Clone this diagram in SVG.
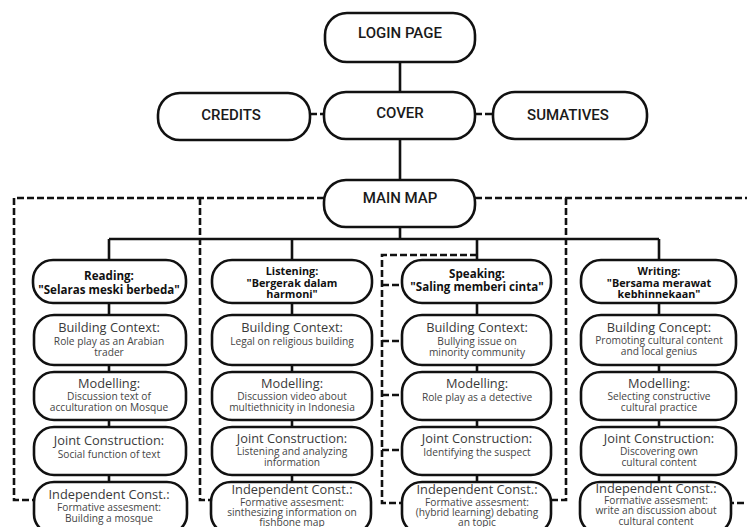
<svg xmlns="http://www.w3.org/2000/svg" width="747" height="527" viewBox="0 0 747 527">
<style>
.top{fill:#fff;stroke:#111;stroke-width:2.6}
.box{fill:#fff;stroke:#111;stroke-width:2.6}
.tl{font-family:Roboto,"Liberation Sans",sans-serif;font-weight:500;font-size:15px;fill:#1a1a1a;text-anchor:middle}
.hd{font-family:"Open Sans","Noto Sans",sans-serif;font-weight:700;font-size:11.6px;fill:#111;text-anchor:middle}
.h3{font-family:"Open Sans","Noto Sans",sans-serif;font-weight:700;font-size:10.8px;fill:#111;text-anchor:middle}
.tt{font-family:"Open Sans","Noto Sans",sans-serif;font-size:12.8px;fill:#3a3a3a;text-anchor:middle}
.ds{font-family:"Open Sans","Noto Sans",sans-serif;font-size:10.2px;fill:#454545;text-anchor:middle}
.sol{fill:none;stroke:#111;stroke-width:2.6}
.dash{fill:none;stroke:#111;stroke-width:2.6;stroke-dasharray:7 3}
</style>
<rect width="747" height="527" fill="#fff"/>
<g id="connectors">
<path class="sol" d="M400 62V92M400 139V180M400 227V239M109 239H659M109 239V260M292 239V260M477 239V260M659 239V260"/>
<path class="sol" d="M109 303V315M109 365V372M109 420V427M109 475V482M292 303V315M292 365V372M292 420V427M292 475V482M477 303V315M477 365V372M477 420V427M477 475V482M659 303V315M659 365V372M659 420V427M659 475V482"/>
<path class="dash" d="M310 114H324M475 114H493"/>
<path class="dash" d="M324 198H14V500H34M200 198V500H212"/>
<path class="dash" d="M475 198H752V503H731M566 198V500H551"/>
<path class="dash" d="M477 255H382V503H402M382 285H402M382 341H402M382 395H402M382 450H402"/>
</g>
<g id="login"><rect class="top" x="325" y="13" width="150" height="49" rx="22"/><text class="tl" x="400" y="38">LOGIN PAGE</text></g>
<g id="credits"><rect class="top" x="158" y="93" width="152" height="47" rx="22"/><text class="tl" x="231" y="120">CREDITS</text></g>
<g id="cover"><rect class="top" x="324" y="92" width="151" height="47" rx="22"/><text class="tl" x="400" y="118">COVER</text></g>
<g id="sumatives"><rect class="top" x="493" y="92" width="154" height="47" rx="22"/><text class="tl" x="568" y="120">SUMATIVES</text></g>
<g id="mainmap"><rect class="top" x="324" y="180" width="151" height="47" rx="22"/><text class="tl" x="400" y="203">MAIN MAP</text></g>

<g id="reading-h"><rect class="box" x="33" y="260" width="153" height="43" rx="20"/><text class="hd" x="109" y="280">Reading:</text><text class="hd" x="109" y="294">"Selaras meski berbeda"</text></g>
<g id="reading-bc"><rect class="box" x="34" y="315" width="152" height="50" rx="20"/><text class="tt" x="109" y="332">Building Context:</text><text class="ds" x="109" y="345">Role play as an Arabian</text><text class="ds" x="109" y="356">trader</text></g>
<g id="reading-m"><rect class="box" x="34" y="372" width="152" height="48" rx="20"/><text class="tt" x="109" y="388">Modelling:</text><text class="ds" x="109" y="400">Discussion text of</text><text class="ds" x="109" y="411">acculturation on Mosque</text></g>
<g id="reading-j"><rect class="box" x="34" y="427" width="152" height="48" rx="20"/><text class="tt" x="109" y="445">Joint Construction:</text><text class="ds" x="109" y="458">Social function of text</text></g>
<g id="reading-i"><rect class="box" x="34" y="482" width="153" height="52" rx="20"/><text class="tt" x="109" y="499">Independent Const.:</text><text class="ds" x="109" y="511">Formative assesment:</text><text class="ds" x="109" y="522">Building a mosque</text></g>

<g id="listening-h"><rect class="box" x="212" y="260" width="160" height="43" rx="20"/><text class="h3" x="292" y="275">Listening:</text><text class="h3" x="292" y="286.5">"Bergerak dalam</text><text class="h3" x="292" y="298">harmoni"</text></g>
<g id="listening-bc"><rect class="box" x="212" y="315" width="160" height="50" rx="20"/><text class="tt" x="292" y="332">Building Context:</text><text class="ds" x="292" y="345">Legal on religious building</text></g>
<g id="listening-m"><rect class="box" x="212" y="372" width="160" height="48" rx="20"/><text class="tt" x="292" y="388">Modelling:</text><text class="ds" x="292" y="400">Discussion video about</text><text class="ds" x="292" y="411">multiethnicity in Indonesia</text></g>
<g id="listening-j"><rect class="box" x="212" y="427" width="160" height="48" rx="20"/><text class="tt" x="292" y="443">Joint Construction:</text><text class="ds" x="292" y="455">Listening and analyzing</text><text class="ds" x="292" y="466">information</text></g>
<g id="listening-i"><rect class="box" x="211" y="482" width="160" height="52" rx="20"/><text class="tt" x="292" y="494">Independent Const.:</text><text class="ds" x="292" y="506">Formative assesment:</text><text class="ds" x="292" y="516">sinthesizing information on</text><text class="ds" x="292" y="526">fishbone map</text></g>

<g id="speaking-h"><rect class="box" x="402" y="260" width="149" height="43" rx="20"/><text class="hd" x="477" y="278">Speaking:</text><text class="hd" x="477" y="291">"Saling memberi cinta"</text></g>
<g id="speaking-bc"><rect class="box" x="402" y="315" width="149" height="50" rx="20"/><text class="tt" x="477" y="332">Building Context:</text><text class="ds" x="477" y="345">Bullying issue on</text><text class="ds" x="477" y="356">minority community</text></g>
<g id="speaking-m"><rect class="box" x="402" y="372" width="149" height="48" rx="20"/><text class="tt" x="477" y="388">Modelling:</text><text class="ds" x="477" y="401">Role play as a detective</text></g>
<g id="speaking-j"><rect class="box" x="402" y="427" width="149" height="48" rx="20"/><text class="tt" x="477" y="443">Joint Construction:</text><text class="ds" x="477" y="456">Identifying the suspect</text></g>
<g id="speaking-i"><rect class="box" x="402" y="482" width="149" height="52" rx="20"/><text class="tt" x="477" y="494">Independent Const.:</text><text class="ds" x="477" y="506">Formative assesment:</text><text class="ds" x="477" y="516">(hybrid learning) debating</text><text class="ds" x="477" y="526">an topic</text></g>

<g id="writing-h"><rect class="box" x="581" y="260" width="155" height="43" rx="20"/><text class="h3" x="659" y="275">Writing:</text><text class="h3" x="659" y="286.5">"Bersama merawat</text><text class="h3" x="659" y="298">kebhinnekaan"</text></g>
<g id="writing-bc"><rect class="box" x="581" y="315" width="155" height="50" rx="20"/><text class="tt" x="659" y="332">Building Concept:</text><text class="ds" x="659" y="344">Promoting cultural content</text><text class="ds" x="659" y="355">and local genius</text></g>
<g id="writing-m"><rect class="box" x="581" y="372" width="155" height="48" rx="20"/><text class="tt" x="659" y="388">Modelling:</text><text class="ds" x="659" y="400">Selecting constructive</text><text class="ds" x="659" y="411">cultural practice</text></g>
<g id="writing-j"><rect class="box" x="581" y="427" width="155" height="48" rx="20"/><text class="tt" x="659" y="443">Joint Construction:</text><text class="ds" x="659" y="455">Discovering own</text><text class="ds" x="659" y="466">cultural content</text></g>
<g id="writing-i"><rect class="box" x="580" y="482" width="151" height="52" rx="20"/><text class="tt" x="656" y="493">Independent Const.:</text><text class="ds" x="656" y="504">Formative assesment:</text><text class="ds" x="656" y="514">write an discussion about</text><text class="ds" x="656" y="525">cultural content</text></g>
</svg>
